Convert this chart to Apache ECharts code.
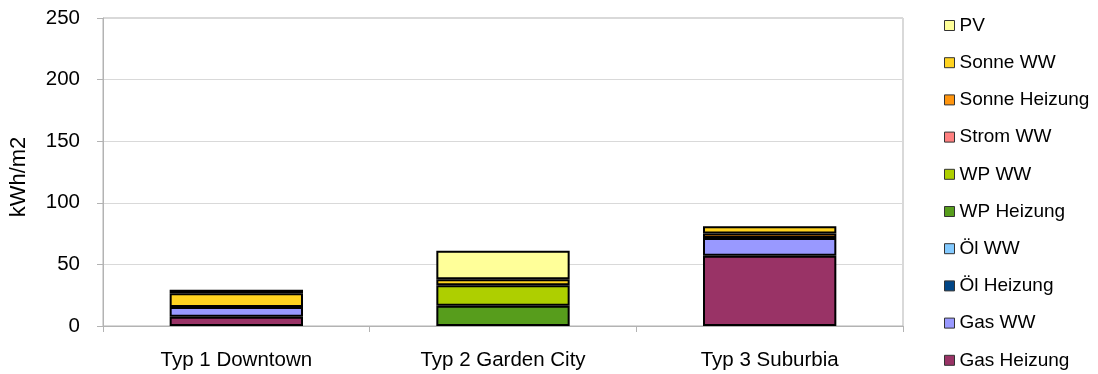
<!DOCTYPE html>
<html>
<head>
<meta charset="utf-8">
<script src="https://cdn.jsdelivr.net/npm/echarts@6/dist/echarts.min.js"></script>
<style>
  html, body { margin: 0; padding: 0; background: #fff; }
  #chart { width: 1098px; height: 374px; }
</style>
</head>
<body>
<div id="chart"></div>
<script>
// Building types on the x axis
const categories = ['Typ 1 Downtown', 'Typ 2 Garden City', 'Typ 3 Suburbia'];

// Energy demand per source, kWh/m2 (null = not used for that type)
const gasHeizung   = [7.5, null, 57];
const gasWW        = [8, null, 14.5];
const oelHeizung   = [null, null, null];
const oelWW        = [null, null, null];
const wpHeizung    = [null, 16.5, null];
const wpWW         = [null, 16.5, null];
const stromWW      = [null, null, null];
const sonneHeizung = [null, null, 3.5];
const sonneWW      = [11, 5, 6];
const pv           = [3, 23, null];

// Y axis ticks
const yTicks = [0, 50, 100, 150, 200, 250];

// Stack order from bottom to top
const seriesDefs = [
  { name: 'Gas Heizung',   data: gasHeizung,   color: '#993366' },
  { name: 'Gas WW',        data: gasWW,        color: '#9999FF' },
  { name: 'Öl Heizung',    data: oelHeizung,   color: '#004586' },
  { name: 'Öl WW',         data: oelWW,        color: '#83CAFF' },
  { name: 'WP Heizung',    data: wpHeizung,    color: '#579D1C' },
  { name: 'WP WW',         data: wpWW,         color: '#AECF00' },
  { name: 'Strom WW',      data: stromWW,      color: '#FF8080' },
  { name: 'Sonne Heizung', data: sonneHeizung, color: '#FF950E' },
  { name: 'Sonne WW',      data: sonneWW,      color: '#FFD320' },
  { name: 'PV',            data: pv,           color: '#FFFF99' }
];

const font = '"Liberation Sans", Arial, sans-serif';
const chart = echarts.init(document.getElementById('chart'), null, { renderer: 'canvas' });

chart.setOption({
  animation: false,
  textStyle: { fontFamily: font, color: '#000' },
  grid: {
    left: 102, right: 195, top: 18, bottom: 48,
    show: true, borderColor: '#b3b3b3', borderWidth: 1
  },
  legend: {
    orient: 'vertical',
    left: 944,
    top: 15.5,
    padding: 0,
    itemWidth: 10,
    itemHeight: 10,
    itemGap: 17.2,
    icon: 'rect',
    data: seriesDefs.map(s => s.name).reverse(),
    itemStyle: { borderColor: '#333', borderWidth: 1 },
    textStyle: { fontFamily: font, fontSize: 19, lineHeight: 20, color: '#000' }
  },
  xAxis: {
    type: 'category',
    data: categories,
    axisLine: { lineStyle: { color: '#b3b3b3' } },
    axisTick: { show: true, length: 6, lineStyle: { color: '#b3b3b3' } },
    axisLabel: { fontFamily: font, fontSize: 20.5, color: '#000', margin: 24 }
  },
  yAxis: {
    type: 'value',
    min: yTicks[0],
    max: yTicks[yTicks.length - 1],
    interval: yTicks[1] - yTicks[0],
    name: 'kWh/m2',
    nameLocation: 'middle',
    nameGap: 73,
    nameTextStyle: { fontFamily: font, fontSize: 22, color: '#000', padding: [0, 10, 0, 0] },
    axisLine: { show: true, lineStyle: { color: '#b3b3b3' } },
    axisTick: { show: true, length: 6, lineStyle: { color: '#b3b3b3' } },
    axisLabel: { fontFamily: font, fontSize: 20.5, color: '#000', margin: 23 },
    splitLine: { lineStyle: { color: '#d9d9d9' } }
  },
  series: seriesDefs.map(s => ({
    name: s.name,
    type: 'bar',
    stack: 'total',
    barWidth: '50%',
    data: s.data,
    itemStyle: { color: s.color, borderColor: '#000', borderWidth: 2 },
    emphasis: { disabled: true }
  }))
});
</script>
</body>
</html>
